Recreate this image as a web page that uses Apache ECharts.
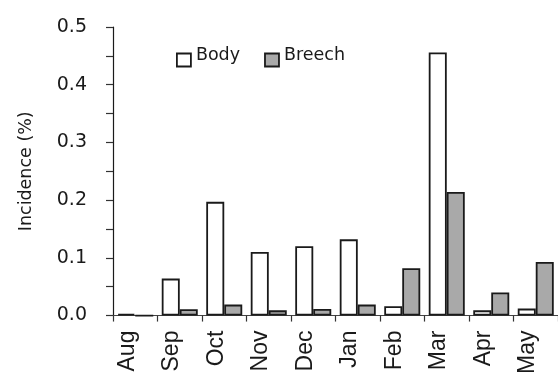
<!DOCTYPE html>
<html>
<head>
<meta charset="utf-8">
<script src="https://cdn.jsdelivr.net/npm/echarts@6/dist/echarts.min.js"></script>
<style>
html,body{margin:0;padding:0;background:#fff;}
#c{width:558px;height:377px;}
</style>
</head>
<body>
<div id="c"></div>
<script>
var months = ['Aug','Sep','Oct','Nov','Dec','Jan','Feb','Mar','Apr','May'];
var bodyVals = [0.003, 0.064, 0.197, 0.110, 0.120, 0.132, 0.016, 0.456, 0.009, 0.012];
var breechVals = [0, 0.011, 0.019, 0.009, 0.0115, 0.019, 0.082, 0.214, 0.040, 0.093];
var yTicks = [0, 0.1, 0.2, 0.3, 0.4, 0.5];

var chart = echarts.init(document.getElementById('c'));
var dv = 'DejaVu Sans, sans-serif';
var ar = 'Liberation Sans, Arial, sans-serif';
chart.setOption({
  animation: false,
  textStyle: {fontFamily: dv},
  legend: {
    left: 171, top: 41,
    itemWidth: 14, itemHeight: 13, itemGap: 24,
    formatter: '{t|{name}}',
    textStyle: {fontSize: 17.5, color: '#1a1a1a', fontFamily: dv,
      rich: {t: {fontSize: 17.5, color: '#1a1a1a', fontFamily: dv, padding: [0, 0, 10, 0]}}},
    data: [
      {name: 'Body', icon: 'rect', itemStyle: {color: '#fff', borderColor: '#1a1a1a', borderWidth: 1.8}},
      {name: 'Breech', icon: 'rect', itemStyle: {color: '#a9a9a9', borderColor: '#1a1a1a', borderWidth: 1.8}}
    ]
  },
  grid: {left: 113, top: 27, bottom: 59, width: 450, containLabel: false},
  xAxis: {
    type: 'category', data: months,
    axisLine: {lineStyle: {color: '#444', width: 1.2}},
    axisTick: {show: true, length: 6, alignWithLabel: false, lineStyle: {color: '#333', width: 1.2}},
    axisLabel: {rotate: 90, fontSize: 23, color: '#1a1a1a', margin: 15, fontFamily: ar,
      verticalAlign: 'bottom', lineHeight: 16}
  },
  yAxis: {
    type: 'value', min: 0, max: 0.5, interval: 0.1,
    name: 'Incidence (%)', nameLocation: 'middle', nameGap: 78, nameRotate: 90,
    nameTextStyle: {fontSize: 17.5, color: '#1a1a1a', fontFamily: dv},
    axisLine: {show: true, lineStyle: {color: '#1a1a1a', width: 1.2}},
    axisTick: {show: true, length: 7, lineStyle: {color: '#333', width: 1.2}},
    minorTick: {show: true, splitNumber: 2, length: 7, lineStyle: {color: '#333', width: 1.2}},
    splitLine: {show: false},
    axisLabel: {fontSize: 19, color: '#1a1a1a', margin: 26, fontFamily: dv, padding: [0, 0, 6, 0],
      formatter: function (v) { return yTicks.indexOf(Math.round(v * 10) / 10) >= 0 ? v.toFixed(1) : ''; }}
  },
  series: [
    {name: 'Body', type: 'bar', data: bodyVals, barWidth: 18, barGap: '0%',
     itemStyle: {color: '#fff', borderColor: '#1a1a1a', borderWidth: 1.8}},
    {name: 'Breech', type: 'bar', data: breechVals, barWidth: 18, barGap: '0%',
     itemStyle: {color: '#a9a9a9', borderColor: '#1a1a1a', borderWidth: 1.8}}
  ]
});
</script>
</body>
</html>
